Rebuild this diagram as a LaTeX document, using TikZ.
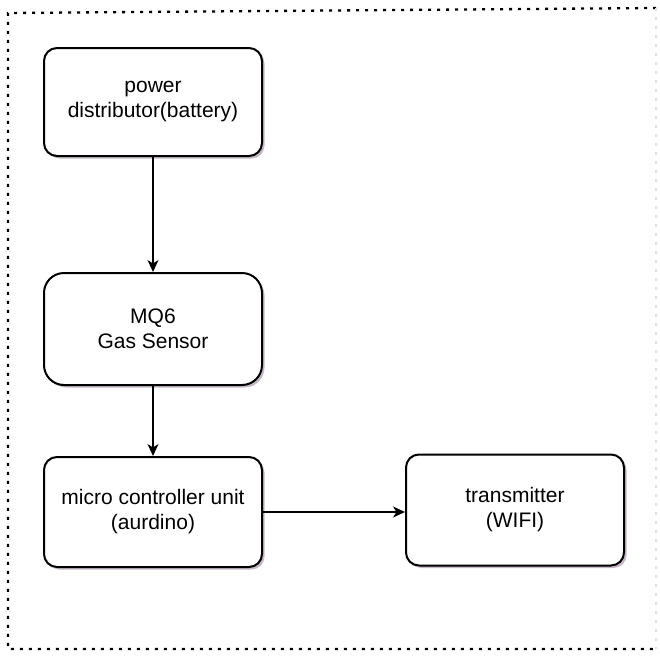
\documentclass[tikz,border=0pt]{standalone}
\usepackage{fontspec}
\setmainfont{Liberation Sans}
\usetikzlibrary{
    arrows.meta,
    shadows,
    positioning
}

\begin{document}
\begin{tikzpicture} [
    x=1pt, y=-1pt,
    block/.style = {draw, line width=2pt, rounded corners=13pt,
        minimum width=218pt, align=center, fill=white,
        font=\fontsize{21}{25}\selectfont,
        drop shadow={shadow xshift=2.5pt, shadow yshift=-2.5pt, fill=violet!25!gray, opacity=.45}},
    link/.style = {draw, line width=1.4pt, -{Stealth[length=12pt,width=11pt,inset=3.5pt]}}
]
    \useasboundingbox (0,0) rectangle (659,659);

    % dotted frame
    \draw[line width=2.3pt, dash pattern=on 3pt off 6pt] (656,8) -- (8,13) -- (8,649) -- (656,649);
    \draw[gray!25, line width=1.5pt, dash pattern=on 3pt off 6pt] (656,8) -- (656,649);

    \node[block, minimum height=108pt] (battery) at (153,102) {power\\distributor(battery)};
    \node[block, minimum height=112pt, rounded corners=20pt] (sensor) at (153,329) {MQ6\\Gas Sensor};
    \node[block, minimum height=110pt] (mcu) at (153,512) {micro controller unit\\(aurdino)};
    \node[block, minimum height=111pt] (wifi) at (515,510) {transmitter\\(WIFI)};

    \draw[link] (battery) -- (sensor);
    \draw[link] (sensor) -- (mcu);
    \draw[link] (mcu.east) -- (mcu.east -| wifi.west);
\end{tikzpicture}
\end{document}
